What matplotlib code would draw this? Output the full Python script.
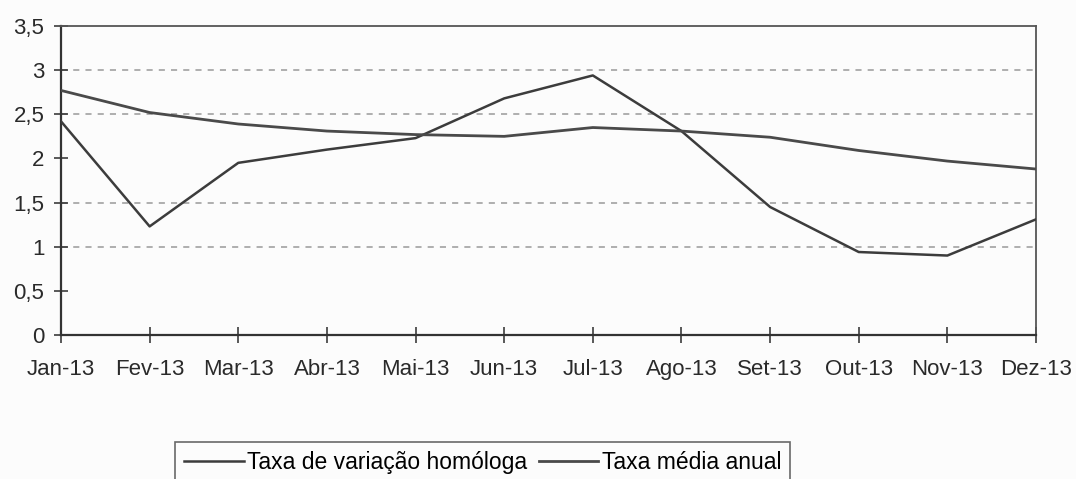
import matplotlib.pyplot as plt

# dados
meses = ["Jan-13", "Fev-13", "Mar-13", "Abr-13", "Mai-13", "Jun-13",
         "Jul-13", "Ago-13", "Set-13", "Out-13", "Nov-13", "Dez-13"]
taxa_homologa = [2.42, 1.23, 1.95, 2.10, 2.23, 2.68, 2.94, 2.31, 1.45, 0.94, 0.90, 1.31]
taxa_media = [2.77, 2.52, 2.39, 2.31, 2.27, 2.25, 2.35, 2.31, 2.24, 2.09, 1.97, 1.88]
y_ticks = [0, 0.5, 1, 1.5, 2, 2.5, 3, 3.5]
y_labels = ["0", "0,5", "1", "1,5", "2", "2,5", "3", "3,5"]
grelha = [1, 1.5, 2.5, 3]

plt.rcParams['font.family'] = ['Liberation Sans', 'DejaVu Sans']

fig = plt.figure(figsize=(10.76, 4.79), dpi=100, facecolor="#fcfcfc")
ax = fig.add_axes([61 / 1076, 1 - 335 / 479, 975 / 1076, 309 / 479])
ax.set_facecolor("#fcfcfc")

x = list(range(len(meses)))
for g in grelha:
    ax.axhline(g, color="#9a9a9a", lw=1.1, ls=(0, (4, 4)), zorder=1)

ax.plot(x, taxa_homologa, color="#3c3c3c", lw=1.8, label="Taxa de variação homóloga", zorder=3)
ax.plot(x, taxa_media, color="#4a4a4a", lw=2.0, label="Taxa média anual", zorder=3)

ax.set_xlim(0, len(meses) - 1)
ax.set_ylim(0, 3.5)
ax.set_xticks(x)
ax.set_xticklabels(meses)
ax.set_yticks(y_ticks)
ax.set_yticklabels(y_labels)
ax.tick_params(axis="x", direction="inout", length=11, width=1.2, colors="#3c3c3c",
               labelcolor="#2a2a2a", labelsize=16, pad=12)
ax.tick_params(axis="y", direction="inout", length=10, width=1.2, colors="#3c3c3c",
               labelcolor="#2a2a2a", labelsize=16, pad=7)
for lado, s in ax.spines.items():
    s.set_color("#555555" if lado in ("top", "right") else "#333333")
    s.set_linewidth(1.3 if lado in ("top", "right") else 1.6)

leg = fig.legend(loc="upper left", bbox_to_anchor=(175 / 1076, 1 - 442 / 479), ncol=2,
                 frameon=True, fancybox=False, fontsize=16.5, handlelength=2.6,
                 handletextpad=0.15, columnspacing=0.5, borderpad=0.4,
                 borderaxespad=0)
leg.get_frame().set_edgecolor("#444444")
leg.get_frame().set_linewidth(1.2)
leg.get_frame().set_facecolor("#fcfcfc")

fig.savefig("out.png", dpi=100, facecolor=fig.get_facecolor())
